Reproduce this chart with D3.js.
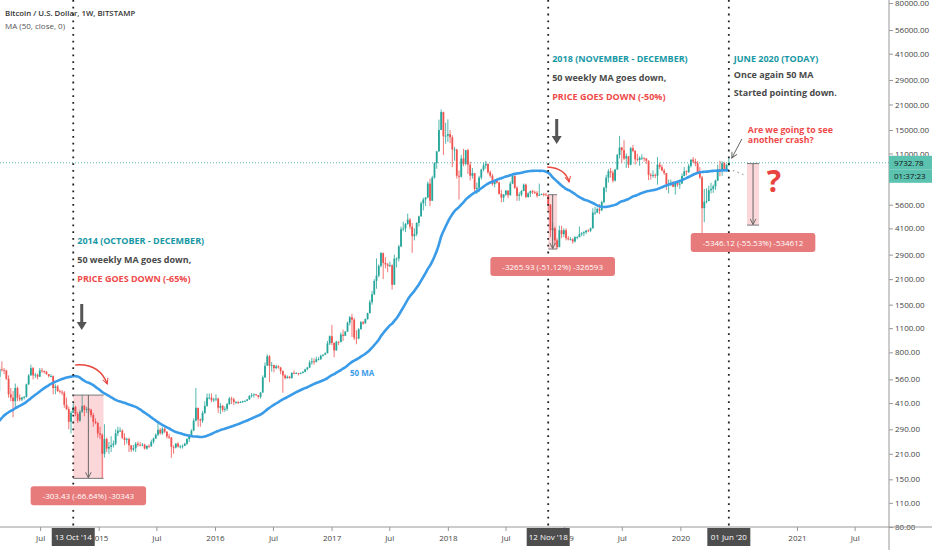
<!DOCTYPE html>
<html>
<head>
<meta charset="utf-8">
<script src="https://cdn.jsdelivr.net/npm/d3@7"></script>
<style>
  body { margin: 0; background: #fff; }
  text { font-family: "Open Sans", "Noto Sans", sans-serif; }
</style>
</head>
<body>
<div id="chart"></div>
<script>
// BTCUSD weekly (Bitstamp), one row per week: [high, low, close]
// weeks start on Monday, open of a week = close of the week before
var firstWeek = "2013-02-04";

var w2013 = [[24,20,22],[28,22,27],[31,26,30],[35,29,34],[48,34,46],[48,41,47],[72,45,70],[95,69,93],
  [165,92,162],[260,50,90],[130,70,127],[145,115,136],[140,80,115],[120,105,117],[125,110,123],[134,118,133],
  [135,118,122],[125,100,101],[110,98,102],[112,101,108],[109,88,92],[93,65,76],[99,75,97],[99,87,90],
  [98,88,96],[107,94,105],[108,101,105],[111,103,110],[122,109,120],[134,118,131],[132,115,118],[136,118,134],
  [135,122,124],[132,122,130],[132,105,124],[138,122,137],[162,136,160],[195,158,180],[212,175,210],[345,208,340],
  [440,330,420],[900,410,800],[1163,770,1090],[1150,760,880],[1000,820,860],[890,450,620],[760,590,730],[800,720,770]];

var w2014 = [[1000,760,870],[900,800,830],[870,780,800],[850,770,810],[830,650,680],[700,550,620],[665,500,580],
  [660,480,640],[710,620,635],[650,600,630],[635,555,565],[590,440,460],[500,420,440],[480,340,420],[530,390,500],
  [510,420,440],[460,420,430],[445,420,440],[450,430,445],[530,440,525],[600,520,590],[680,590,650],[660,560,590],
  [610,570,595],[605,560,580],[650,580,630],[650,610,625],[630,605,620],[625,595,600],[600,575,585],[600,575,585],
  [590,460,500],[525,460,510],[520,475,480],[490,465,475],[485,455,470],[480,385,400],[440,375,378],[390,290,320],
  [370,275,360],[410,360,390],[395,345,355],[365,315,325],[375,320,365],[457,360,395],[400,345,375],[390,360,380],
  [385,360,375],[380,340,350],[360,300,320],[335,310,315],[320,260,275]];

var w2015 = [[300,255,270],[275,152,210],[310,200,255],[260,215,225],[245,210,230],[265,215,235],[250,228,240],
  [290,235,275],[300,265,285],[298,280,285],[290,255,260],[275,235,252],[260,240,255],[260,215,235],[235,215,222],
  [236,217,226],[245,215,240],[247,230,236],[245,232,235],[242,232,237],[240,222,225],[235,222,233],[238,227,232],
  [253,230,246],[260,240,257],[275,255,270],[315,265,288],[295,270,275],[298,270,292],[298,276,281],[283,257,264],
  [273,255,260],[262,199,230],[235,210,228],[242,225,240],[245,228,231],[236,225,231],[237,225,233],[243,235,240],
  [258,235,255],[272,245,265],[290,264,285],[335,283,325],[500,322,385],[385,300,330],[335,300,325],[370,315,360],
  [420,355,395],[465,390,440],[465,430,440],[465,415,425],[440,415,430]];

var w2016 = [[460,420,435],[440,360,385],[410,355,395],[400,365,375],[393,365,380],[410,370,405],[445,400,435],
  [445,405,430],[440,400,415],[420,405,415],[420,405,410],[420,410,416],[423,410,420],[425,415,422],[432,420,430],
  [455,428,450],[468,440,455],[465,440,460],[462,450,455],[455,435,445],[475,435,470],[590,500,575],[700,570,670],
  [780,680,760],[770,540,670],[705,620,675],[680,615,650],[680,640,665],[675,645,655],[660,600,625],[630,470,590],
  [600,560,570],[590,565,580],[585,565,570],[615,565,610],[630,600,608],[615,600,610],[610,590,605],[615,598,610],
  [625,605,618],[645,615,640],[660,630,655],[720,650,700],[745,680,710],[740,680,705],[755,700,730],[750,720,730],
  [775,725,765],[780,755,775],[800,770,790],[930,790,900],[1000,880,990]];

var w2017 = [[1150,880,905],[910,750,820],[930,820,920],[925,880,915],[1040,915,1010],[1080,930,995],[1060,990,1050],
  [1200,1050,1180],[1290,1140,1270],[1330,980,1230],[1260,940,970],[1070,890,960],[1100,950,1085],[1210,1080,1190],
  [1210,1150,1170],[1250,1170,1240],[1350,1230,1340],[1600,1340,1550],[1800,1500,1720],[2100,1700,2050],
  [2760,1850,2200],[2550,2150,2500],[3000,2450,2960],[2980,2100,2600],[2800,2420,2550],[2600,2300,2500],
  [2640,2460,2520],[2550,1830,1950],[2900,1950,2750],[2800,2450,2750],[3300,2650,3230],[4200,3200,4050],
  [4480,3950,4100],[4400,3900,4350],[4980,4300,4600],[4700,4050,4200],[4400,2970,3700],[4100,3500,3800],
  [4450,3700,4400],[4850,4200,4800],[5850,4800,5700],[6150,5200,6000],[6200,5500,6150],[7600,6100,7400],
  [7900,5500,5900],[8200,5900,8000],[9800,7900,9700],[11400,9000,11300],[17200,11300,15000],[19666,15000,19000],
  [19100,10800,13800],[16500,12500,13900]];

var w2018 = [[17250,12800,14200],[15000,12600,13600],[14000,9200,11600],[12000,10000,11600],[11700,7900,8200],
  [8800,6000,8100],[10800,8000,10300],[11700,9300,9600],[11500,9400,11500],[11700,8400,9500],[9900,7700,8200],
  [9100,7900,8500],[8500,6600,6900],[7500,6450,7000],[8200,6600,8000],[9000,7800,8900],[9750,8700,9400],
  [9990,9000,9600],[9600,8400,8600],[8800,8000,8200],[8400,7200,7350],[7750,7050,7700],[7750,7400,7500],
  [7600,6400,6450],[6800,5780,6150],[6450,5800,6400],[6800,6300,6750],[6750,6100,6350],[7600,6300,7400],
  [8500,7350,8200],[8200,6900,7000],[7150,5900,6300],[6600,5900,6400],[6800,6250,6700],[7400,6700,7300],
  [7400,6100,6200],[6600,6150,6500],[6750,6200,6700],[6800,6450,6600],[6750,6450,6550],[6700,6150,6300],
  [7400,6300,6400],[6500,6350,6450],[6550,6250,6400],[6550,6300,6350],[6400,5200,5600],[5650,3650,4000],
  [4400,3500,4100],[4200,3300,3500],[3600,3120,3200],[4250,3200,4000],[4250,3600,3800],[4100,3650,4000]];

var w2019 = [[4100,3500,3600],[3700,3500,3550],[3650,3500,3550],[3600,3350,3450],[3700,3400,3650],[3700,3550,3650],
  [4200,3650,3800],[3900,3700,3850],[3950,3700,3900],[4000,3800,3990],[4050,3900,3980],[4150,3900,4100],
  [5350,4100,5050],[5450,4900,5050],[5400,5000,5300],[5650,4950,5200],[5900,5150,5800],[7100,5700,7000],
  [8300,6600,8000],[8950,7500,8700],[9100,8000,8550],[8800,7500,7700],[9000,7600,8900],[10950,8900,10800],
  [13880,10300,11900],[12000,9700,11500],[13100,10100,10300],[11000,9100,10600],[10650,9100,9500],
  [12000,9400,11800],[12300,11200,11400],[11500,9500,10200],[10950,9900,10100],[10600,9350,10400],
  [10900,10100,10400],[10450,9900,10300],[10350,9600,10000],[10050,7750,8300],[8500,7800,8200],[8800,8000,8300],
  [8450,7950,8200],[10500,7300,9500],[9800,8950,9200],[9500,8700,8800],[9000,8300,8500],[8500,6800,7300],
  [7800,6500,7400],[7800,7150,7500],[7650,7050,7100],[7500,6400,7500],[7650,7100,7300],[7800,6900,7400]];

var w2020 = [[8450,7400,8180],[9200,8150,8700],[8800,8250,8600],[9600,8500,9350],[10150,9150,10150],
  [10500,9700,9900],[10300,9300,9650],[9950,8400,8530],[9200,7850,8030],[8200,3850,5350],[6900,4450,5830],
  [6950,5700,5880],[7200,5870,6780],[7480,6500,6900],[7300,6550,7130],[7800,6800,7700],[9500,7650,8900],
  [10000,8150,8750],[9950,8200,9680],[9850,8700,8720],[9600,8650,9450],[10400,9300,9732.78]];

var lastPrice = 9732.78;
var countdown = "01:37:23";
var maLength = 50;

var priceTicks = [80,110,150,210,290,410,560,800,1100,1500,2100,2900,4100,5600,8000,11000,15000,21000,29000,41000,56000,80000];
var timeTicks = ["2014-07-01","2015-01-01","2015-07-01","2016-01-01","2016-07-01","2017-01-01","2017-07-01",
  "2018-01-01","2018-07-01","2019-01-01","2019-07-01","2020-01-01","2021-01-01","2021-07-01"];

var markerDates = ["2014-10-13","2018-11-12","2020-06-01"];
var markerLabels = ["13 Oct '14","12 Nov '18","01 Jun '20"];

// price range tool: start week, end week, from price, to price, label
var dropStart = ["2014-10-13","2018-11-12","2020-07-28"];
var dropEnd = ["2015-01-16","2018-12-10","2020-09-04"];
var dropFrom = [455.3, 6388.8, 9627.2];
var dropTo = [151.9, 3122.9, 4281.1];
var dropLabels = ["-303.43 (-66.64%) -30343","-3265.93 (-51.12%) -326593","-5346.12 (-55.53%) -534612"];

var W = 932, H = 550, plotR = 889, plotB = 527;
var parse = d3.timeParse("%Y-%m-%d");

var bars = [].concat(w2013, w2014, w2015, w2016, w2017, w2018, w2019, w2020).map(function(d, i) {
  return { date: d3.timeDay.offset(parse(firstWeek), 7 * i), high: d[0], low: d[1], close: d[2] };
});
bars.forEach(function(d, i) { d.open = i ? bars[i - 1].close : d.close; });

var ma = [];
bars.forEach(function(d, i) {
  if (i < maLength - 1) return;
  ma.push({ date: d.date, value: d3.mean(bars.slice(i - maLength + 1, i + 1), function(b) { return b.close; }) });
});

var x = d3.scaleTime().domain([parse("2016-01-01"), parse("2021-01-01")]).range([215, 797]);
var y = d3.scaleLog().domain([80, 80000]).range([plotB, 3]);

var svg = d3.select("#chart").append("svg").attr("width", W).attr("height", H);

var defs = svg.append("defs");
defs.append("clipPath").attr("id", "plot").append("rect").attr("width", plotR).attr("height", plotB);
function arrowMarker(id, color) {
  defs.append("marker").attr("id", id).attr("viewBox", "0 0 10 10").attr("refX", 9).attr("refY", 5)
    .attr("markerWidth", 7).attr("markerHeight", 7).attr("markerUnits", "userSpaceOnUse").attr("orient", "auto")
    .append("path").attr("d", "M1,1 L9,5 L1,9").attr("fill", "none").attr("stroke", color).attr("stroke-width", 1.4);
}
arrowMarker("greyHead", "#666");
arrowMarker("redHead", "#e8463f");

var plot = svg.append("g").attr("clip-path", "url(#plot)");

// last price line
plot.append("line").attr("x1", 0).attr("x2", plotR).attr("y1", y(lastPrice)).attr("y2", y(lastPrice))
  .attr("stroke", "#26a69a").attr("stroke-width", 0.8).attr("stroke-dasharray", "1,2");

// candles
var candle = plot.append("g").selectAll("g").data(bars).enter().append("g")
  .attr("fill", function(d) { return d.close >= d.open ? "#26a69a" : "#ef5350"; })
  .attr("stroke", function(d) { return d.close >= d.open ? "#26a69a" : "#ef5350"; });
candle.append("line")
  .attr("x1", function(d) { return x(d.date); }).attr("x2", function(d) { return x(d.date); })
  .attr("y1", function(d) { return y(d.high); }).attr("y2", function(d) { return y(d.low); })
  .attr("stroke-width", 0.8);
candle.append("rect")
  .attr("x", function(d) { return x(d.date) - 0.9; }).attr("width", 1.8)
  .attr("y", function(d) { return y(Math.max(d.open, d.close)); })
  .attr("height", function(d) { return Math.max(0.8, Math.abs(y(d.open) - y(d.close))); })
  .attr("stroke", "none");

// 50 week moving average
plot.append("path").datum(ma)
  .attr("d", d3.line().x(function(d) { return x(d.date); }).y(function(d) { return y(d.value); }).curve(d3.curveMonotoneX))
  .attr("fill", "none").attr("stroke", "#3a9be8").attr("stroke-width", 2.6);
var lastMa = ma[ma.length - 1];
plot.append("path")
  .attr("d", "M" + (x(lastMa.date) + 4) + "," + y(lastMa.value) + " l12,5")
  .attr("stroke", "#aaa").attr("stroke-width", 1.3).attr("stroke-dasharray", "1.5,3.5");
svg.append("text").attr("x", 350).attr("y", 376).text("50 MA")
  .attr("fill", "#3a9be8").attr("font-size", 8).attr("font-weight", 700);

// event markers: dotted verticals
markerDates.forEach(function(d) {
  svg.append("line").attr("x1", x(parse(d))).attr("x2", x(parse(d))).attr("y1", 0).attr("y2", H)
    .attr("stroke", "#222").attr("stroke-width", 1.8).attr("stroke-dasharray", "1.8,5");
});

// price range boxes
dropStart.forEach(function(s, i) {
  var x0 = x(parse(s)), x1 = x(parse(dropEnd[i])), y0 = y(dropFrom[i]), y1 = y(dropTo[i]), cx = (x0 + x1) / 2;
  var g = svg.append("g");
  g.append("rect").attr("x", x0).attr("y", y0).attr("width", x1 - x0).attr("height", y1 - y0)
    .attr("fill", "rgba(242,54,69,0.2)");
  g.selectAll("line.edge").data([y0, y1]).enter().append("line")
    .attr("x1", x0).attr("x2", x1).attr("y1", function(v) { return v; }).attr("y2", function(v) { return v; })
    .attr("stroke", "#777").attr("stroke-width", 1);
  g.append("line").attr("x1", cx).attr("x2", cx).attr("y1", y0).attr("y2", y1 - 0.5)
    .attr("stroke", "#666").attr("stroke-width", 1).attr("marker-end", "url(#greyHead)");
  var t = g.append("text").attr("x", cx).attr("y", y1 + 8 + 12.7).attr("text-anchor", "middle")
    .attr("font-size", 8).attr("fill", "#fff").text(dropLabels[i]);
  var tw = t.node().getComputedTextLength() + 24;
  g.insert("rect", "text").attr("x", cx - tw / 2).attr("y", y1 + 8).attr("width", tw).attr("height", 19)
    .attr("rx", 3).attr("fill", "#e77a7a");
});

// annotations
function note(px, lines) {
  lines.forEach(function(l) {
    svg.append("text").attr("x", px).attr("y", l[0]).text(l[1])
      .attr("font-size", l[3] || 9).attr("font-weight", 700).attr("fill", l[2]);
  });
}
var teal = "#1898a5", grey = "#4a4a4a", red = "#ee4a4a";
var m0 = x(parse(markerDates[0])), m1 = x(parse(markerDates[1])), m2 = x(parse(markerDates[2]));
note(m0 + 4, [[244, "2014 (OCTOBER - DECEMBER)", teal], [262.5, "50 weekly MA goes down,", grey], [281.5, "PRICE GOES DOWN (-65%)", red]]);
note(m1 + 4, [[62, "2018 (NOVEMBER - DECEMBER)", teal], [80.5, "50 weekly MA goes down,", grey], [99.5, "PRICE GOES DOWN (-50%)", red]]);
note(m2 + 5, [[62, "JUNE 2020 (TODAY)", teal], [77.5, "Once again 50 MA", grey], [95.5, "Started pointing down.", grey]]);
note(m2 + 19, [[133, "Are we going to see", red, 8.8], [142.5, "another crash?", red, 8.8]]);
svg.append("text").attr("x", m2 + 45).attr("y", 192).attr("text-anchor", "middle").text("?")
  .attr("font-size", 30).attr("font-weight", 700).attr("fill", "#e8443f");

// thick down arrows
[[m0 + 8.5, 304, 330], [m1 + 8.5, 119, 144]].forEach(function(a) {
  var cx = a[0], t = a[1], b = a[2];
  svg.append("path")
    .attr("d", "M" + (cx - 1.5) + "," + t + "H" + (cx + 1.5) + "V" + (b - 8) + "H" + (cx + 5) + "L" + cx + "," + b +
      "L" + (cx - 5) + "," + (b - 8) + "H" + (cx - 1.5) + "Z")
    .attr("fill", "#555");
});

// red curved arrows
[[m0 + 2, 365, m0 + 26, 363, m0 + 34, 384], [m1 - 1, 167, m1 + 17, 168, m1 + 21, 182]].forEach(function(c) {
  svg.append("path").attr("d", "M" + c[0] + "," + c[1] + " Q" + c[2] + "," + c[3] + " " + c[4] + "," + c[5])
    .attr("fill", "none").attr("stroke", "#e8463f").attr("stroke-width", 1.4).attr("marker-end", "url(#redHead)");
});

// small pointer to last bar
svg.append("line").attr("x1", m2 + 13).attr("y1", 139).attr("x2", m2 + 3).attr("y2", 158)
  .attr("stroke", "#666").attr("stroke-width", 1).attr("marker-end", "url(#greyHead)");

// axes
var yAxis = svg.append("g").attr("transform", "translate(" + plotR + ",0)")
  .call(d3.axisRight(y).tickValues(priceTicks).tickSize(4).tickPadding(2).tickFormat(function(d) { return d.toFixed(2); }));
yAxis.select(".domain").remove();
yAxis.selectAll("line").attr("stroke", "#999");
yAxis.selectAll("text").attr("font-size", 8).attr("fill", "#444").attr("font-family", "'Open Sans', sans-serif");
svg.append("line").attr("x1", plotR).attr("x2", plotR).attr("y1", 0).attr("y2", H).attr("stroke", "#999");

var xAxis = svg.append("g").attr("transform", "translate(0," + plotB + ")")
  .call(d3.axisBottom(x).tickValues(timeTicks.map(parse)).tickSize(4).tickPadding(4)
    .tickFormat(function(d) { return d.getMonth() === 0 ? d.getFullYear() : "Jul"; }));
xAxis.select(".domain").remove();
xAxis.selectAll("line").attr("stroke", "#999");
xAxis.selectAll("text").attr("font-size", 8).attr("fill", "#444").attr("font-family", "'Open Sans', sans-serif");
svg.append("line").attr("x1", 0).attr("x2", W).attr("y1", plotB).attr("y2", plotB).attr("stroke", "#999");

// marker date boxes
markerDates.forEach(function(d, i) {
  var cx = x(parse(d));
  svg.append("rect").attr("x", cx - 21.5).attr("y", plotB + 1).attr("width", 43).attr("height", 18).attr("fill", "#4d4d4d");
  svg.append("text").attr("x", cx).attr("y", plotB + 13).attr("text-anchor", "middle").text(markerLabels[i])
    .attr("font-size", 8).attr("fill", "#fff");
});

// last price + countdown labels
var py = y(lastPrice);
svg.append("rect").attr("x", plotR).attr("y", py - 7).attr("width", W - plotR).attr("height", 13.5).attr("fill", "#5cc2b0");
svg.append("text").attr("x", plotR + 5).attr("y", py + 3).text(lastPrice.toFixed(2)).attr("font-size", 8).attr("fill", "#111");
svg.append("rect").attr("x", plotR).attr("y", py + 6.5).attr("width", W - plotR).attr("height", 13.5).attr("fill", "#5cc2b0");
svg.append("text").attr("x", plotR + 5).attr("y", py + 16.5).text(countdown).attr("font-size", 8).attr("fill", "#111");

// legend
svg.append("text").attr("x", 5).attr("y", 16).text("Bitcoin / U.S. Dollar, 1W, BITSTAMP")
  .attr("font-size", 7.8).attr("font-weight", 600).attr("fill", "#333");
svg.append("text").attr("x", 5).attr("y", 28.5).text("MA (50, close, 0)")
  .attr("font-size", 8).attr("fill", "#555");
</script>
</body>
</html>
